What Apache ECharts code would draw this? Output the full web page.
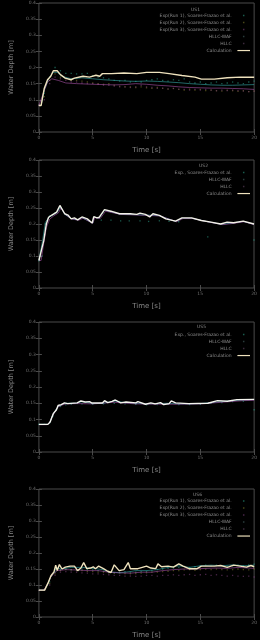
<!DOCTYPE html>
<html>
<head>
<meta charset="utf-8">
<script src="https://cdn.jsdelivr.net/npm/echarts@6/dist/echarts.min.js"></script>
<style>
html,body{margin:0;padding:0;background:#000;}
#c{width:260px;height:640px;}
</style>
</head>
<body>
<div id="c"></div>
<script>
// ---------- DATA ----------
const titles = ['US1', 'US2', 'US5', 'US6'];
const xTicks = [0, 5, 10, 15, 20];
const yTicks = [0, 0.05, 0.1, 0.15, 0.2, 0.25, 0.3, 0.35, 0.4];

const expT = [0,0.5,1,1.5,2,2.5,3,3.5,4,4.5,5,5.5,6,6.5,7,7.5,8,8.5,9,9.5,10,10.5,11,11.5,12,12.5,13,13.5,14,14.5,15,15.5,16,16.5,17,17.5,18,18.5,19,19.5,20];

// Panel 1 (US1)
const p1Run1 = [0.083,0.12,0.17,0.2,0.19,0.182,0.182,0.18,0.18,0.182,0.175,0.17,0.168,0.165,0.16,0.158,0.16,0.155,0.157,0.155,0.16,0.162,0.165,0.16,0.158,0.162,0.16,0.165,0.155,0.152,0.155,0.15,0.152,0.155,0.15,0.152,0.155,0.152,0.15,0.155,0.158];
const p1Run2 = [0.083,0.11,0.16,0.18,0.17,0.165,0.16,0.16,0.158,0.155,0.152,0.15,0.148,0.15,0.145,0.142,0.14,0.14,0.138,0.14,0.137,0.135,0.138,0.135,0.133,0.135,0.132,0.13,0.133,0.13,0.132,0.128,0.13,0.128,0.127,0.13,0.128,0.126,0.128,0.125,0.127];
const p1Run3 = [0.083,0.1,0.15,0.17,0.165,0.16,0.155,0.155,0.152,0.15,0.15,0.148,0.145,0.145,0.142,0.14,0.14,0.138,0.14,0.145,0.14,0.138,0.135,0.136,0.134,0.135,0.133,0.132,0.13,0.132,0.13,0.132,0.13,0.128,0.13,0.128,0.13,0.128,0.127,0.125,0.127];
const p1Waf = [[0,0.082],[0.2,0.082],[0.5,0.13],[0.9,0.165],[1.3,0.185],[1.7,0.185],[2.2,0.172],[3,0.165],[4,0.168],[5,0.165],[6,0.162],[7,0.16],[8,0.158],[9,0.157],[10,0.158],[11,0.157],[12,0.155],[13,0.153],[14,0.15],[15,0.148],[16,0.146],[17,0.145],[18,0.145],[19,0.146],[20,0.147]];
const p1Hllc = [[0,0.082],[0.15,0.082],[0.4,0.12],[0.8,0.155],[1.2,0.165],[1.8,0.16],[2.5,0.152],[3.5,0.15],[5,0.148],[6,0.147],[7,0.146],[8,0.147],[9,0.15],[10,0.148],[11,0.145],[12,0.143],[13,0.14],[14,0.138],[15,0.137],[16,0.136],[17,0.136],[18,0.135],[19,0.134],[20,0.132]];
const p1Calc = [[0,0.082],[0.2,0.082],[0.5,0.136],[0.8,0.162],[1.1,0.173],[1.34,0.19],[1.7,0.19],[2.0,0.178],[2.44,0.167],[2.98,0.162],[3.3,0.167],[4.1,0.173],[4.7,0.17],[5.3,0.176],[5.65,0.173],[5.9,0.181],[6.75,0.181],[7.9,0.183],[9.1,0.181],[10,0.185],[11.2,0.185],[12.1,0.181],[13.3,0.175],[14.5,0.17],[15.1,0.164],[16.3,0.164],[17.5,0.168],[18.7,0.17],[20,0.17]];

// Panel 2 (US2)
const p2Exp = [[0,0.085],[0.3,0.1],[0.6,0.2],[1.0,0.225],[1.5,0.235],[2.0,0.25],[2.6,0.228],[3.4,0.215],[4.2,0.218],[5.0,0.205],[5.8,0.212],[6.7,0.212],[7.6,0.21],[8.4,0.21],[9.4,0.21],[10.2,0.208],[11.2,0.21],[12.1,0.208],[13.0,0.207],[15.7,0.16],[20,0.15]];
const p2Waf = [[0,0.086],[0.1,0.086],[0.35,0.15],[0.6,0.205],[0.9,0.22],[1.3,0.228],[1.7,0.236],[2.0,0.255],[2.4,0.23],[3,0.217],[3.6,0.213],[4,0.22],[5,0.203],[5.1,0.222],[5.6,0.218],[6.1,0.243],[7.5,0.231],[9,0.229],[10,0.228],[11.2,0.226],[12.7,0.208],[13.3,0.218],[14.2,0.218],[16,0.205],[17,0.199],[18,0.203],[19,0.208],[20,0.199]];
const p2Hllc = [[0,0.086],[0.2,0.086],[0.45,0.14],[0.7,0.19],[1.0,0.215],[1.4,0.226],[1.8,0.234],[2.05,0.25],[2.5,0.228],[3.1,0.215],[3.7,0.212],[4.1,0.218],[5,0.202],[5.2,0.22],[5.7,0.217],[6.2,0.24],[7.6,0.23],[9.1,0.228],[10.1,0.227],[11.3,0.225],[12.8,0.207],[13.4,0.217],[14.3,0.217],[16.1,0.204],[17.1,0.198],[18.1,0.202],[19.1,0.207],[20,0.198]];
const p2Calc = [[0,0.086],[0.15,0.086],[0.45,0.148],[0.69,0.2],[0.9,0.221],[1.2,0.228],[1.65,0.237],[1.95,0.258],[2.1,0.253],[2.4,0.232],[2.7,0.228],[3.0,0.216],[3.3,0.219],[3.6,0.213],[4.0,0.222],[4.5,0.216],[4.95,0.203],[5.1,0.223],[5.4,0.219],[5.6,0.221],[6.1,0.245],[6.7,0.24],[7.5,0.232],[8.5,0.232],[9.1,0.23],[9.4,0.234],[9.9,0.23],[10.3,0.222],[10.6,0.232],[11.2,0.227],[11.8,0.216],[12.7,0.209],[13.3,0.219],[14.2,0.219],[15.1,0.211],[16.0,0.206],[16.9,0.2],[17.5,0.206],[18.1,0.204],[19.0,0.209],[20,0.2]];

// Panel 3 (US5)
const p3Exp = [[0,0.085],[0.5,0.085],[1.0,0.09],[1.3,0.11],[1.6,0.13],[2.0,0.14],[2.5,0.145],[3,0.147],[4,0.148],[5,0.147],[6,0.148],[7,0.15],[8,0.148],[9,0.147],[10,0.145],[11,0.146],[12,0.147],[13,0.146],[14,0.146],[15,0.147],[16,0.15],[17,0.152],[18,0.155],[19,0.156],[20,0.13]];
const p3Waf = [[0,0.085],[0.8,0.085],[1.0,0.09],[1.3,0.115],[1.6,0.13],[1.8,0.14],[2.1,0.145],[2.4,0.15],[3.5,0.15],[4,0.155],[5,0.149],[6,0.15],[7,0.157],[8,0.152],[9,0.15],[10,0.148],[11,0.149],[12,0.15],[13,0.148],[14,0.148],[15,0.149],[16,0.152],[17,0.155],[18,0.158],[19,0.16],[20,0.161]];
const p3Hllc = [[0,0.084],[0.75,0.084],[0.95,0.088],[1.25,0.11],[1.55,0.127],[1.75,0.138],[2.1,0.144],[2.5,0.148],[3.5,0.149],[5,0.148],[7,0.153],[9,0.148],[11,0.147],[13,0.147],[15,0.148],[17,0.153],[19,0.158],[20,0.159]];
const p3Calc = [[0,0.085],[0.83,0.085],[1.04,0.092],[1.33,0.118],[1.63,0.13],[1.78,0.143],[2.07,0.146],[2.37,0.151],[2.67,0.149],[3.55,0.151],[3.9,0.157],[4.3,0.154],[4.7,0.155],[4.9,0.151],[5.9,0.151],[6.1,0.158],[6.4,0.152],[6.8,0.156],[7.1,0.16],[7.6,0.151],[8.1,0.154],[9.0,0.151],[9.2,0.155],[9.9,0.147],[10.4,0.151],[10.8,0.148],[11.3,0.152],[11.6,0.146],[12.1,0.149],[12.3,0.157],[12.7,0.151],[13.9,0.149],[15.7,0.15],[16.6,0.158],[17.5,0.156],[18.4,0.161],[20,0.162]];

// Panel 4 (US6)
const p4Run1 = [0.083,0.083,0.11,0.14,0.148,0.15,0.148,0.147,0.15,0.148,0.147,0.145,0.143,0.14,0.138,0.14,0.142,0.14,0.14,0.142,0.143,0.145,0.148,0.15,0.152,0.153,0.155,0.158,0.155,0.157,0.16,0.162,0.16,0.162,0.16,0.158,0.16,0.162,0.16,0.163,0.165];
const p4Run2 = [0.083,0.083,0.105,0.135,0.145,0.148,0.147,0.145,0.145,0.143,0.142,0.14,0.14,0.138,0.137,0.138,0.136,0.135,0.136,0.137,0.138,0.14,0.14,0.142,0.143,0.145,0.145,0.147,0.148,0.146,0.148,0.15,0.148,0.15,0.148,0.147,0.148,0.15,0.148,0.147,0.15];
const p4Run3 = [0.083,0.083,0.1,0.13,0.14,0.142,0.14,0.14,0.138,0.137,0.135,0.135,0.133,0.132,0.13,0.13,0.128,0.128,0.127,0.128,0.13,0.13,0.128,0.13,0.13,0.132,0.13,0.132,0.133,0.13,0.132,0.133,0.13,0.132,0.13,0.128,0.13,0.128,0.127,0.128,0.125];
const p4Waf = [[0,0.084],[0.5,0.084],[0.8,0.1],[1.1,0.125],[1.4,0.138],[1.6,0.155],[2,0.15],[3,0.155],[4,0.155],[5,0.152],[6,0.148],[6.5,0.14],[7,0.14],[7.5,0.138],[8,0.14],[8.5,0.142],[9,0.145],[10,0.145],[11,0.148],[12,0.155],[13,0.16],[14,0.155],[15,0.16],[16,0.162],[17,0.16],[18,0.163],[19,0.16],[20,0.162]];
const p4Hllc = [[0,0.084],[0.45,0.084],[0.75,0.1],[1.05,0.122],[1.35,0.135],[1.7,0.145],[2.5,0.148],[3.5,0.147],[4.5,0.145],[5.5,0.145],[6.5,0.14],[7.5,0.138],[8.5,0.137],[9.5,0.14],[10.5,0.14],[11.5,0.145],[12.5,0.148],[13.5,0.15],[14.5,0.15],[15.5,0.152],[16.5,0.153],[17.5,0.152],[18.5,0.155],[19.5,0.153],[20,0.152]];
const p4Calc = [[0,0.084],[0.53,0.084],[0.83,0.105],[1.12,0.129],[1.4,0.141],[1.56,0.162],[1.7,0.145],[1.9,0.164],[2.15,0.15],[2.45,0.156],[2.9,0.159],[3.3,0.159],[3.6,0.145],[3.9,0.153],[4.16,0.17],[4.45,0.151],[4.8,0.153],[5.05,0.157],[5.25,0.151],[5.55,0.159],[6.0,0.151],[6.4,0.143],[6.7,0.139],[7.0,0.163],[7.45,0.145],[7.9,0.148],[8.3,0.17],[8.5,0.151],[9.2,0.151],[10.0,0.159],[10.4,0.153],[10.85,0.151],[11.06,0.166],[11.4,0.157],[12.0,0.159],[12.5,0.156],[13.0,0.166],[13.4,0.159],[13.95,0.151],[14.7,0.151],[15.1,0.159],[16.3,0.159],[16.9,0.161],[17.5,0.155],[18.1,0.162],[18.7,0.159],[19.3,0.156],[19.7,0.161],[20,0.157]];

// ---------- NAMES / STYLE ----------
const N_RUN = ['Exp(Run 1), Soares-Frazao et al.', 'Exp(Run 2), Soares-Frazao et al.', 'Exp(Run 3), Soares-Frazao et al.'];
const N_EXP = 'Exp., Soares-Frazao et al.';
const N_WAF = 'HLLC-WAF', N_HLLC = 'HLLC', N_CALC = 'Calculation';
const C_RUN = ['#2a9a82', '#7a7628', '#7a3e78'];
const C_WAF = '#3cbcbc', C_HLLC = '#b85ab8';
const DOT = 'path://M0,0M6,6M2,2h2v2h-2z';
const LINE = 'path://M0,0M14,5M0,1.9h14v1.3h-14z';
const zip = (t, v) => v.map((d, i) => [t[i], d]);

const panels = [
  { grid:{left:31, top:3, width:224, height:129}, title:[191,7.5], legendTop:13, calcColor:'#efe2bd',
    exp:[[N_RUN[0], zip(expT,p1Run1), C_RUN[0]], [N_RUN[1], zip(expT,p1Run2), C_RUN[1]], [N_RUN[2], zip(expT,p1Run3), C_RUN[2]]],
    waf:p1Waf, hllc:p1Hllc, calc:p1Calc },
  { grid:{left:32, top:160, width:222, height:128}, title:[199,163.5], legendTop:170, calcColor:'#f2f0e6',
    exp:[[N_EXP, p2Exp, C_RUN[0]]], waf:p2Waf, hllc:p2Hllc, calc:p2Calc },
  { grid:{left:30, top:322, width:225, height:130}, title:[197,324.5], legendTop:332, calcColor:'#f4f4ee',
    exp:[[N_EXP, p3Exp, C_RUN[0]]], waf:p3Waf, hllc:p3Hllc, calc:p3Calc },
  { grid:{left:29, top:489, width:226, height:130}, title:[193,492.8], legendTop:498.5, calcColor:'#efe2bd',
    exp:[[N_RUN[0], zip(expT,p4Run1), C_RUN[0]], [N_RUN[1], zip(expT,p4Run2), C_RUN[1]], [N_RUN[2], zip(expT,p4Run3), C_RUN[2]]],
    waf:p4Waf, hllc:p4Hllc, calc:p4Calc }
];

const FONT = 'DejaVu Sans';
const BORDER = '#4a4a4a';
const NAME_C = '#858585', TICK_C = '#707070', LEG_C = '#8a8a8a';
const option = {
  backgroundColor:'#000', animation:false,
  grid:[], xAxis:[], yAxis:[], series:[], legend:[], title:[]
};

panels.forEach((p, i) => {
  option.grid.push(Object.assign({show:true, borderColor:BORDER, borderWidth:1, backgroundColor:'transparent'}, p.grid));
  const tick = {show:true, inside:true, length:3, lineStyle:{color:BORDER, width:1}};
  option.xAxis.push({
    gridIndex:i, type:'value', min:xTicks[0], max:xTicks[xTicks.length-1], interval:xTicks[1]-xTicks[0],
    name:'Time [s]', nameLocation:'middle', nameGap:15,
    nameTextStyle:{color:NAME_C, fontSize:7, fontFamily:FONT},
    axisLine:{show:false}, axisTick:tick, splitLine:{show:false},
    axisLabel:{color:TICK_C, fontSize:4.5, fontFamily:FONT, margin:3}
  });
  option.xAxis.push({
    gridIndex:i, type:'value', position:'top', min:xTicks[0], max:xTicks[xTicks.length-1], interval:xTicks[1]-xTicks[0],
    axisLine:{show:false}, axisTick:tick, splitLine:{show:false}, axisLabel:{show:false}
  });
  option.yAxis.push({
    gridIndex:i, type:'value', min:yTicks[0], max:yTicks[yTicks.length-1], interval:yTicks[1]-yTicks[0],
    name:'Water Depth [m]', nameLocation:'middle', nameGap:22,
    nameTextStyle:{color:NAME_C, fontSize:6.5, fontFamily:FONT},
    axisLine:{show:false}, axisTick:tick, splitLine:{show:false},
    axisLabel:{color:TICK_C, fontSize:4.5, fontFamily:FONT, margin:3}
  });
  option.yAxis.push({
    gridIndex:i, type:'value', position:'right', min:yTicks[0], max:yTicks[yTicks.length-1], interval:yTicks[1]-yTicks[0],
    axisLine:{show:false}, axisTick:tick, splitLine:{show:false}, axisLabel:{show:false}
  });
  const xi = 2*i, yi = 2*i;
  const legendData = [];
  p.exp.forEach(([name, data, color]) => {
    option.series.push({type:'scatter', name, xAxisIndex:xi, yAxisIndex:yi, data, symbol:'rect', symbolSize:1.3,
      itemStyle:{color, opacity:0.6}});
    legendData.push({name, icon:DOT});
  });
  option.series.push({type:'line', name:N_WAF, xAxisIndex:xi, yAxisIndex:yi, data:p.waf, showSymbol:false,
    lineStyle:{color:C_WAF, width:1, opacity:0.55}, itemStyle:{color:'#2a3c3c'}});
  option.series.push({type:'line', name:N_HLLC, xAxisIndex:xi, yAxisIndex:yi, data:p.hllc, showSymbol:false,
    lineStyle:{color:C_HLLC, width:1, opacity:0.55}, itemStyle:{color:'#3c2a3c'}});
  option.series.push({type:'line', name:N_CALC, xAxisIndex:xi, yAxisIndex:yi, data:p.calc, showSymbol:false,
    lineStyle:{color:p.calcColor, width:1.4}, itemStyle:{color:p.calcColor}});
  legendData.push({name:N_WAF, icon:DOT, itemStyle:{color:'#2a3c3c'}});
  legendData.push({name:N_HLLC, icon:DOT, itemStyle:{color:'#3c2a3c'}});
  legendData.push({name:N_CALC, icon:LINE});
  option.legend.push({
    data:legendData, orient:'vertical', align:'right', right:10, top:p.legendTop, padding:0,
    itemWidth:14, itemHeight:4.5, itemGap:2, selectedMode:false,
    textStyle:{color:LEG_C, fontSize:4.5, fontFamily:FONT, lineHeight:4.5}
  });
  option.title.push({text:titles[i], left:p.title[0], top:p.title[1], padding:0,
    textStyle:{color:LEG_C, fontSize:4.5, fontWeight:'normal', fontFamily:FONT}});
});

const chart = echarts.init(document.getElementById('c'), null, {renderer:'canvas'});
chart.setOption(option);
</script>
</body>
</html>
